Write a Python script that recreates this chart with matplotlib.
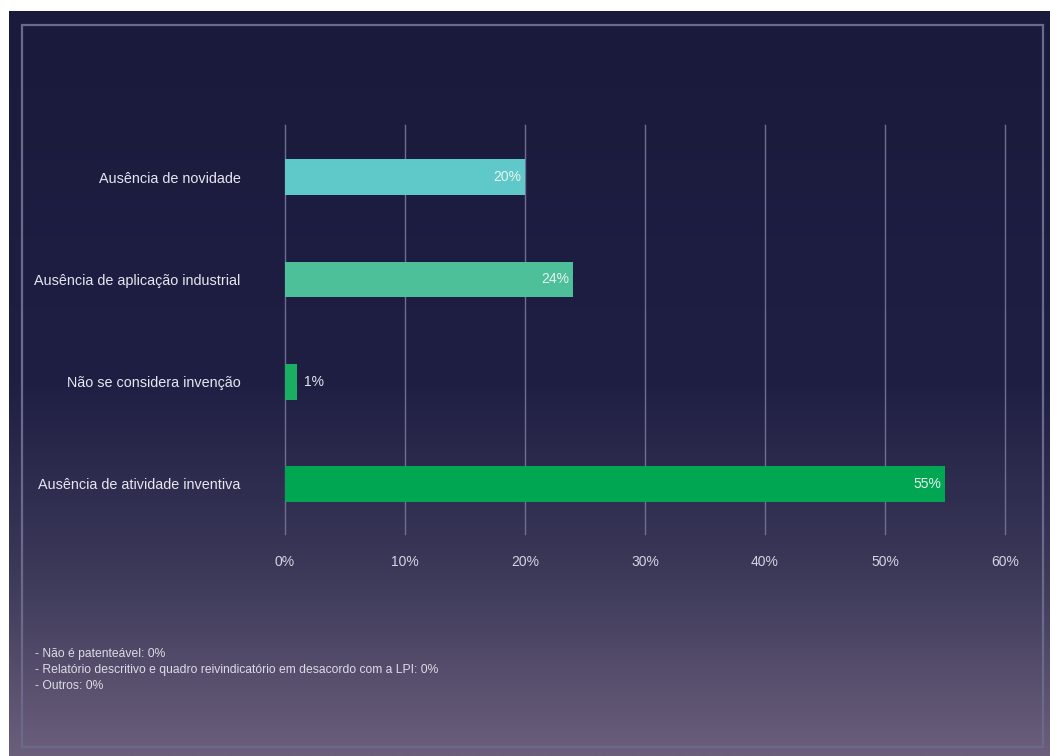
import matplotlib.pyplot as plt
import numpy as np
from matplotlib.colors import LinearSegmentedColormap
from matplotlib.patches import Rectangle

plt.rcParams['font.family'] = ['Liberation Sans', 'DejaVu Sans']

# motivos de indeferimento
categorias = ['Ausência de novidade',
              'Ausência de aplicação industrial',
              'Não se considera invenção',
              'Ausência de atividade inventiva']
valores = [20, 24, 1, 55]
cores = ['#5fc9c9', '#4dbf99', '#1aae62', '#00a651']

ticks = [0, 10, 20, 30, 40, 50, 60]

notas = ['- Não é patenteável: 0%',
         '- Relatório descritivo e quadro reivindicatório em desacordo com a LPI: 0%',
         '- Outros: 0%']

W, H = 1050, 756
fig = plt.figure(figsize=(W / 100, H / 100), dpi=100)
fig.patch.set_facecolor('white')

# fundo em degradê
bg = fig.add_axes([9 / W, 0, (W - 9) / W, (H - 11) / H])
bg.set_axis_off()
cmap = LinearSegmentedColormap.from_list(
    'fundo', [(0, '#1a1a3c'), (0.5, '#1f1f44'), (0.75, '#3b3858'), (1, '#6b5f7b')])
grad = np.linspace(0, 1, 256).reshape(-1, 1)
bg.imshow(grad, aspect='auto', cmap=cmap, extent=[0, 1, 1, 0])
bg.set_xlim(0, 1)
bg.set_ylim(1, 0)

# moldura interna
fig.patches.append(Rectangle((22 / W, 1 - 747 / H), (1043 - 22) / W, (747 - 25) / H,
                             transform=fig.transFigure, fill=False,
                             edgecolor='#6c6a8c', lw=1.6))

ax = fig.add_axes([285 / W, 1 - 534 / H, 720 / W, (534 - 125) / H])
ax.set_facecolor('none')
y = np.arange(len(categorias))
ax.barh(y, valores, height=0.35, color=cores, zorder=3)
ax.set_xlim(0, 60)
ax.set_ylim(3.49, -0.51)

for t in ticks:
    ax.axvline(t, color='#6e6e92', lw=1, zorder=1, clip_on=False)

ax.set_xticks(ticks)
ax.set_xticklabels([f'{t}%' for t in ticks], color='#d4d4e2', fontsize=10)
ax.tick_params(axis='x', length=0, pad=15)
ax.set_yticks(y)
ax.set_yticklabels(categorias, color='#e6e6ef', fontsize=10.4)
ax.tick_params(axis='y', length=0, pad=32)
for s in ax.spines.values():
    s.set_visible(False)

for yi, v in zip(y, valores):
    if v >= 5:
        ax.text(v - 0.3, yi, f'{v}%', ha='right', va='center', color='#e8f4f0',
                fontsize=10, zorder=4)
    else:
        ax.text(v + 0.6, yi, f'{v}%', ha='left', va='center', color='#e6e6ef',
                fontsize=10, zorder=4)

fig.text(35 / W, 1 - 670 / H, '\n'.join(notas), ha='left', va='center',
         color='#dcdce6', fontsize=8.7, linespacing=1.45)

fig.savefig('out.png', dpi=100)
